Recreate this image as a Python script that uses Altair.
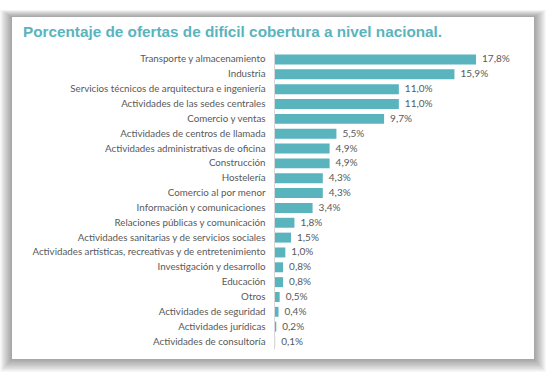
import altair as alt
import pandas as pd

title_text = "Porcentaje de ofertas de difícil cobertura a nivel nacional."
categories = [
    "Transporte y almacenamiento",
    "Industria",
    "Servicios técnicos de arquitectura e ingeniería",
    "Actividades de las sedes centrales",
    "Comercio y ventas",
    "Actividades de centros de llamada",
    "Actividades administrativas de oficina",
    "Construcción",
    "Hostelería",
    "Comercio al por menor",
    "Información y comunicaciones",
    "Relaciones públicas y comunicación",
    "Actividades sanitarias y de servicios sociales",
    "Actividades artísticas, recreativas y de entretenimiento",
    "Investigación y desarrollo",
    "Educación",
    "Otros",
    "Actividades de seguridad",
    "Actividades jurídicas",
    "Actividades de consultoría",
]
values = [17.8, 15.9, 11.0, 11.0, 9.7, 5.5, 4.9, 4.9, 4.3, 4.3,
          3.4, 1.8, 1.5, 1.0, 0.8, 0.8, 0.5, 0.4, 0.2, 0.1]

df = pd.DataFrame({"cat": categories, "val": values})
df["label"] = [f"{v:.1f}".replace(".", ",") + "%" for v in values]

BAR = "#5AB4BE"
TXT = "#595959"
FONT = "Lato"

W, H = 227, 297
PL, PT = 274, 52

# card frame (decorative), pixel coordinates relative to plot origin
cx0, cx1, cy0, cy1 = 12 - PL, 534 - PL, 17 - PT, 359 - PT
one = pd.DataFrame({"a": [0]})
layers = []
for i in range(9, 0, -1):
    d = i * 1.3
    layers.append(
        alt.Chart(one).mark_rect(color="#000000", opacity=0.045).encode(
            x=alt.value(cx0 - d), x2=alt.value(cx1 + d),
            y=alt.value(cy0 - d * 0.6), y2=alt.value(cy1 + d * 1.1),
        )
    )
layers.append(
    alt.Chart(one).mark_rect(color="#ffffff").encode(
        x=alt.value(cx0), x2=alt.value(cx1),
        y=alt.value(cy0), y2=alt.value(cy1),
    )
)
title = alt.Chart(one).mark_text(
    align="left", baseline="alphabetic", font="Liberation Sans",
    fontSize=15.3, fontWeight="bold", color=BAR,
).encode(x=alt.value(23 - PL), y=alt.value(36.5 - PT), text=alt.value(title_text))

base = alt.Chart(df)
y = alt.Y("cat:N", sort=categories, title=None,
          scale=alt.Scale(paddingInner=0.33, paddingOuter=0.17),
          axis=alt.Axis(ticks=False, domainColor="#d9d9d9", domainWidth=1,
                        labelColor=TXT, labelFont=FONT, labelFontSize=9.75,
                        labelPadding=9, labelLimit=400, grid=False, zindex=2))
x = alt.X("val:Q", scale=alt.Scale(domain=[0, 20]), axis=None)

bars = base.mark_bar(color=BAR).encode(x=x, y=y)
text = base.mark_text(align="left", baseline="middle", dx=6, color=TXT,
                      font=FONT, fontSize=10).encode(x=x, y=y, text="label:N")

chart = alt.layer(*layers, title, bars, text).properties(
    width=W, height=H,
).configure_view(stroke=None).configure(
    background="#ffffff",
    autosize=alt.AutoSizeParams(type="none"),
    padding={"left": PL, "top": PT, "right": 552 - PL - W, "bottom": 375 - PT - H},
)

chart.save("out.html", embed_options={"renderer": "svg", "actions": False})
